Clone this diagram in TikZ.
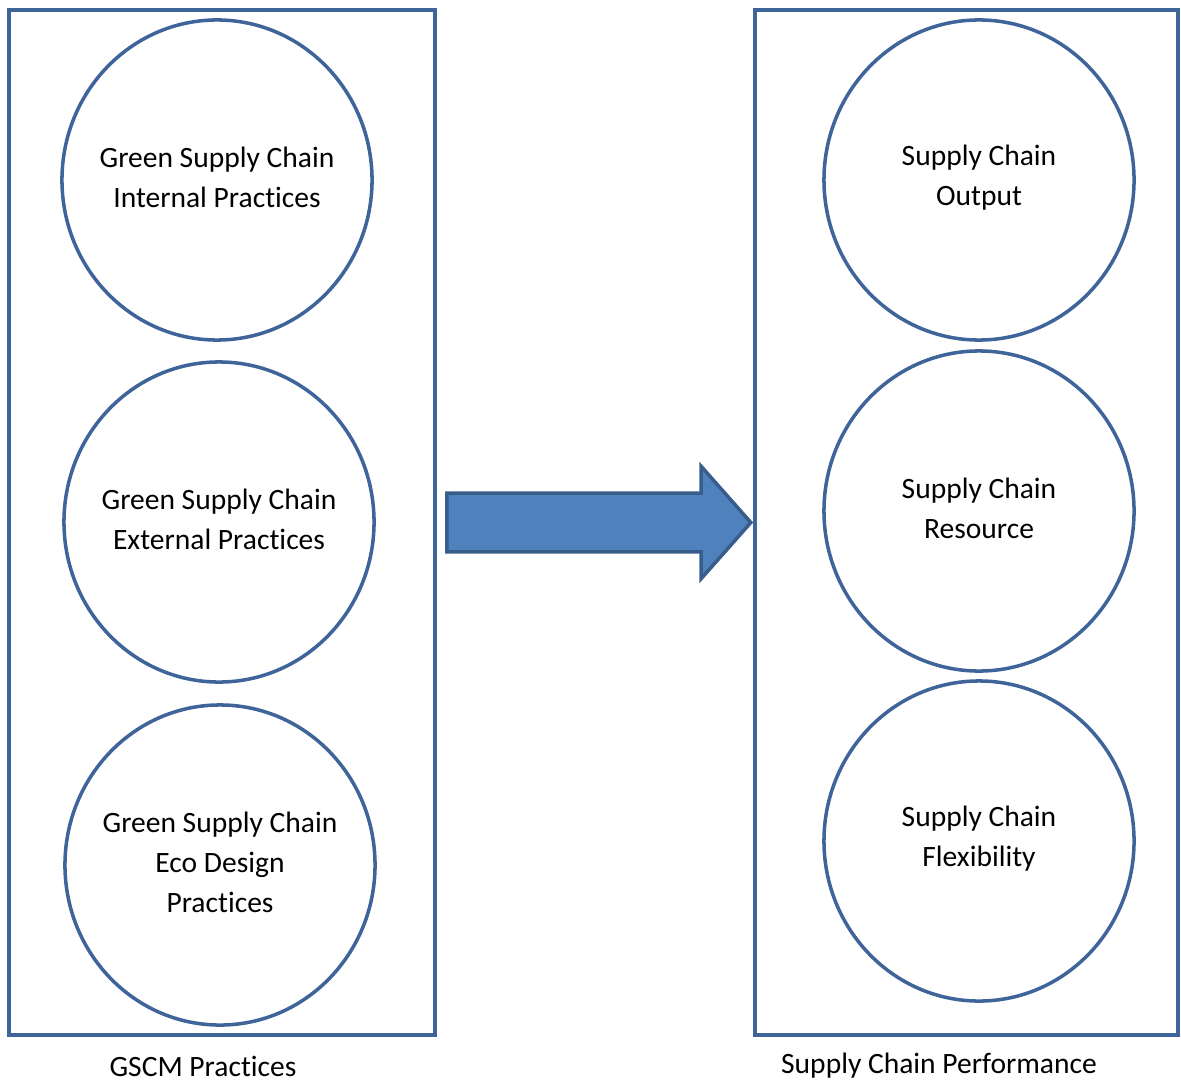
\documentclass[tikz,border=0pt]{standalone}
\usepackage{fontspec}
\setmainfont[Ligatures=NoCommon]{Carlito}
\usetikzlibrary{shapes.geometric,shapes.arrows,positioning}
\definecolor{edgeblue}{HTML}{3F649A}
\definecolor{arrowfill}{HTML}{4F81BD}
\definecolor{arrowedge}{HTML}{385D8A}
\begin{document}
\begin{tikzpicture}[x=0.025cm, y=-0.025cm, font=\fontsize{21}{28.5}\selectfont]
	\useasboundingbox (0,0) rectangle (1181,1083);
	\tikzset{
		panel/.style={draw=edgeblue, line width=2.5pt, minimum width=10.65cm, minimum height=25.625cm, inner sep=0pt},
		factor/.style={ellipse, draw=edgeblue, line width=2.5pt, minimum width=7.75cm, minimum height=8cm, inner sep=0pt, label={[align=center, yshift=2pt]center:#1}}
	}
	\tikzset{
		bigarrow/.style={single arrow, fill=arrowfill, draw=arrowedge, line width=2.5pt, minimum height=7.6cm, minimum width=2.725cm, single arrow head extend=0.675cm, single arrow tip angle=97, inner xsep=0pt, inner ysep=0.6875cm}
	}
	% the two groups
	\node[panel] (gscm) at (222,522.5) {};
	\node[panel, minimum width=10.575cm] (perf) at (966.5,522.5) {};
	% practices
	\node[factor={Green Supply Chain\\Internal Practices}] (internal) at (217,180) {};
	\node[factor={Green Supply Chain\\External Practices}] (external) at (219,522) {};
	\node[factor={Green Supply Chain\\Eco Design\\Practices}] (ecodesign) at (220,865) {};
	% performance
	\node[factor={Supply Chain\\Output}] (output) at (979,180) {};
	\node[factor={Supply Chain\\Resource}] (resource) at (979,511) {};
	\node[factor={Supply Chain\\Flexibility}] (flexibility) at (979,841) {};
	% captions
	\node (gscmlabel) at (203,1066) {GSCM Practices};
	\node (perflabel) at (939,1066) {Supply Chain Performance};
	% link between the groups
	\node[bigarrow, anchor=tip] (link) at (perf.west) {};
\end{tikzpicture}
\end{document}
